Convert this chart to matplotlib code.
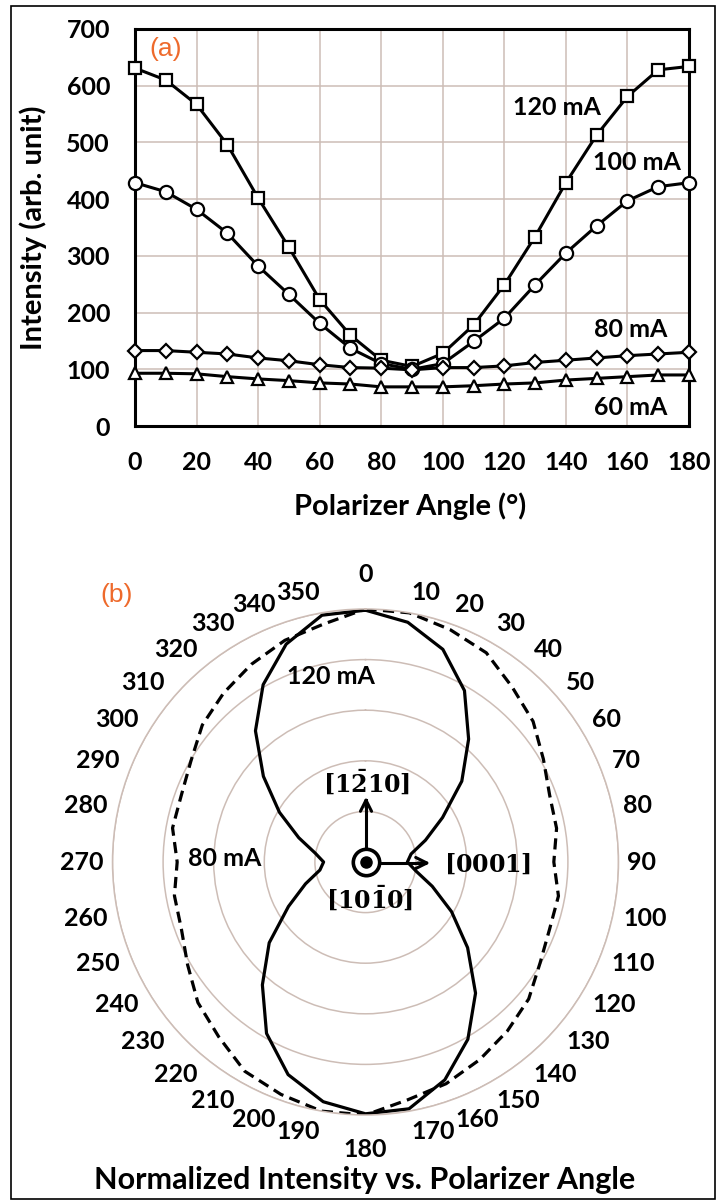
import numpy as np
import matplotlib.pyplot as plt
from matplotlib.patches import Rectangle

plt.rcParams['font.family'] = ['Lato', 'DejaVu Sans']
plt.rcParams['font.weight'] = 'bold'
plt.rcParams['mathtext.fontset'] = 'dejavuserif'

# data
angles = np.arange(0, 181, 10)
i120 = [631, 610, 567, 496, 402, 315, 223, 160, 116, 105, 128, 178, 249, 334, 429, 513, 581, 628, 634]
i100 = [429, 413, 382, 340, 282, 232, 181, 137, 110, 100, 110, 149, 190, 249, 305, 353, 397, 422, 429]
i80 = [133, 133, 130, 127, 120, 115, 108, 103, 102, 99, 103, 103, 106, 112, 116, 120, 124, 127, 130]
i60 = [93, 93, 92, 87, 83, 80, 76, 74, 69, 69, 69, 71, 74, 76, 81, 84, 87, 90, 90]
series = [("120 mA", i120, "s"), ("100 mA", i100, "o"), ("80 mA", i80, "D"), ("60 mA", i60, "^")]
polar_ticks = list(range(0, 360, 10))

W, H = 723, 1200
def fx(x):
    return x / W
def fy(y):
    return 1 - y / H

grid_col = "#cdbdb6"
orange = "#ee6a2c"

fig = plt.figure(figsize=(7.23, 12), dpi=100)

# ---- panel (a)
ax = fig.add_axes([fx(135), fy(426), fx(689) - fx(135), fy(29) - fy(426)])
msize = {"s": 9, "o": 9.5, "D": 7, "^": 8.5}
for name, vals, m in series:
    ax.plot(angles, vals, color="black", lw=2.2, marker=m, ms=msize[m],
            mfc="white", mec="black", mew=1.6, clip_on=False, zorder=3)
ax.set_xlim(0, 180)
ax.set_ylim(0, 700)
ax.set_xticks(np.arange(0, 181, 20))
ax.set_yticks(np.arange(0, 701, 100))
ax.grid(True, color=grid_col, lw=1.1)
ax.tick_params(length=0, labelsize=18, pad=18)
for s in ax.spines.values():
    s.set_linewidth(2.2)
    s.set_color("black")
ax.text(137, 561, "120 mA", fontsize=18, ha="center", va="center")
ax.text(163, 464, "100 mA", fontsize=18, ha="center", va="center")
ax.text(161, 170, "80 mA", fontsize=18, ha="center", va="center")
ax.text(161, 33, "60 mA", fontsize=18, ha="center", va="center")

fig.text(fx(33), fy(228), "Intensity (arb. unit)", rotation=90, fontsize=21,
         ha="center", va="center")
fig.text(fx(410), fy(506), "Polarizer Angle (\u00b0)", fontsize=21,
         ha="center", va="center")
fig.text(fx(166), fy(49), "(a)", color=orange, fontsize=19, fontweight="normal",
         family="Liberation Sans", ha="center", va="center")

# ---- panel (b)
cx, cy, R = 365.5, 862, 253
pax = fig.add_axes([fx(cx - R), fy(cy + R), 2 * R / W, 2 * R / H], projection="polar")
pax.set_theta_zero_location("N")
pax.set_theta_direction(-1)

th = np.deg2rad(np.append(polar_ticks, 360))
def full_turn(vals):
    v = np.array(vals, dtype=float) / max(vals)
    return np.concatenate([v[:-1], v[:-1], v[:1]])

pax.plot(th, full_turn(i120), color="black", lw=2.3)
pax.plot(th, full_turn(i80), color="black", lw=2.3, ls=(0, (3.5, 2)))
pax.set_ylim(0, 1)
pax.set_yticks([0.2, 0.4, 0.6, 0.8, 1.0])
pax.set_yticklabels([])
pax.set_xticks([])
pax.yaxis.grid(True, color=grid_col, lw=1.1)
pax.xaxis.grid(False)
pax.spines["polar"].set_color(grid_col)
pax.spines["polar"].set_linewidth(1.1)

for a in polar_ticks:
    t = np.deg2rad(a)
    s, c = np.sin(t), np.cos(t)
    ha = "left" if s > 0.05 else ("right" if s < -0.05 else "center")
    va = "bottom" if c > 0.05 else ("top" if c < -0.05 else "center")
    r = 1.09 if a in (0, 180) else 1.035
    pax.text(t, r, str(a), fontsize=18, ha=ha, va=va, clip_on=False)

fig.text(fx(331), fy(677), "120 mA", fontsize=18, ha="center", va="center")
fig.text(fx(225), fy(858), "80 mA", fontsize=18, ha="center", va="center")

# crystal axes symbol
pax.plot([0], [0], marker="o", ms=19, mfc="none", mec="black", mew=2.6)
pax.plot([0], [0], marker="o", ms=8, color="black")
fig.add_artist(plt.Line2D([fx(366), fx(366)], [fy(848), fy(800)], color="black", lw=2.2))
pax.annotate("", xy=(fx(366), fy(794)), xytext=(fx(366), fy(810)), xycoords="figure fraction",
             textcoords="figure fraction",
             arrowprops=dict(arrowstyle="->", lw=2.2, color="black", mutation_scale=20))
fig.add_artist(plt.Line2D([fx(381), fx(425)], [fy(863), fy(863)], color="black", lw=2.2))
pax.annotate("", xy=(fx(433), fy(863)), xytext=(fx(415), fy(863)), xycoords="figure fraction",
             textcoords="figure fraction",
             arrowprops=dict(arrowstyle="->", lw=2.2, color="black", mutation_scale=20))
fig.text(fx(367), fy(782), r"$\mathbf{[1\bar{2}10]}$", fontsize=17, ha="center", va="center")
fig.text(fx(488), fy(864), r"$\mathbf{[0001]}$", fontsize=17, ha="center", va="center")
fig.text(fx(370), fy(898), r"$\mathbf{[10\bar{1}0]}$", fontsize=17, ha="center", va="center")

fig.text(fx(117), fy(595), "(b)", color=orange, fontsize=19, fontweight="normal",
         family="Liberation Sans", ha="center", va="center")
fig.text(fx(365), fy(1180), "Normalized Intensity vs. Polarizer Angle", fontsize=22,
         ha="center", va="center")

fig.add_artist(Rectangle((fx(11), fy(1199)), fx(715) - fx(11), fy(6) - fy(1199),
                         transform=fig.transFigure, fill=False, lw=1.2, color="black"))

fig.savefig("out.png", dpi=100)
